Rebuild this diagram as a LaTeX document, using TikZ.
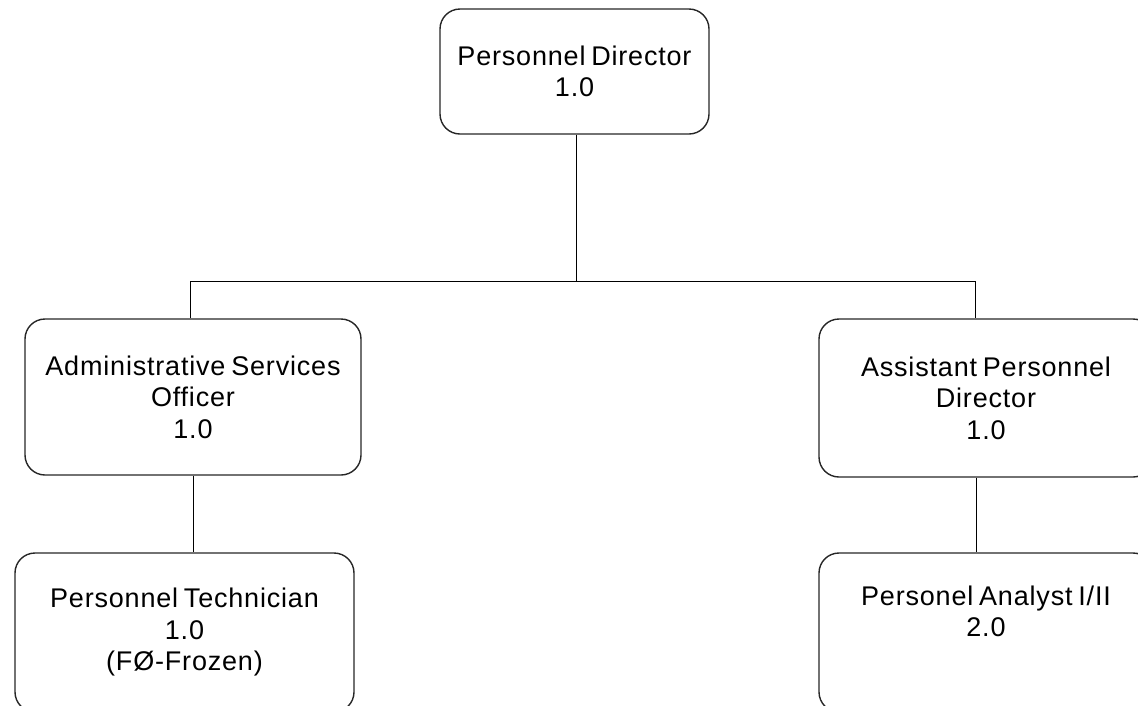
\documentclass[tikz,border=0pt]{standalone}
\usepackage{fontspec}
\setmainfont{Liberation Sans}[LetterSpace=3, WordSpace=0.7]
\begin{document}
\begin{tikzpicture}[x=1pt,y=-1pt,
  post/.style={draw=black!85, line width=1.4pt, rounded corners=20pt,
    align=center, inner sep=0pt, font=\fontsize{27}{31.5}\selectfont},
  link/.style={draw=black, line width=1pt}]
  \useasboundingbox (0,0) rectangle (1138,705);
  \clip (0,0) rectangle (1138,705);

  % posts
  \node[post, minimum width=269pt, minimum height=125pt] (dir) at (574.5,71.5)
    {Personnel Director\\1.0};
  \node[post, minimum width=336pt, minimum height=156pt] (aso) at (193,397)
    {Administrative Services\\Officer\\1.0};
  \node[post, minimum width=334pt, minimum height=158pt] (apd) at (986,398)
    {Assistant Personnel\\Director\\1.0};
  \node[post, minimum width=339pt, minimum height=159pt] (tech) at (184.5,632.5)
    {Personnel Technician\\1.0\\(FØ-Frozen)};
  \node[post, minimum width=334pt, minimum height=159pt] (ana) at (986,632.5)
    {Personel Analyst I/II\\2.0\\[2pt]\strut};

  % reporting lines
  \coordinate (bus) at (576,281);
  \coordinate (busL) at (190,281);
  \coordinate (busR) at (975,281);
  \coordinate (dropL) at (193,0);
  \coordinate (dropR) at (976,0);
  \draw[link] (bus |- dir.south) -- (bus);
  \draw[link] (busL |- aso.north) -- (busL) -- (busR) -- (busR |- apd.north);
  \draw[link] (dropL |- aso.south) -- (dropL |- tech.north);
  \draw[link] (dropR |- apd.south) -- (dropR |- ana.north);
\end{tikzpicture}
\end{document}
